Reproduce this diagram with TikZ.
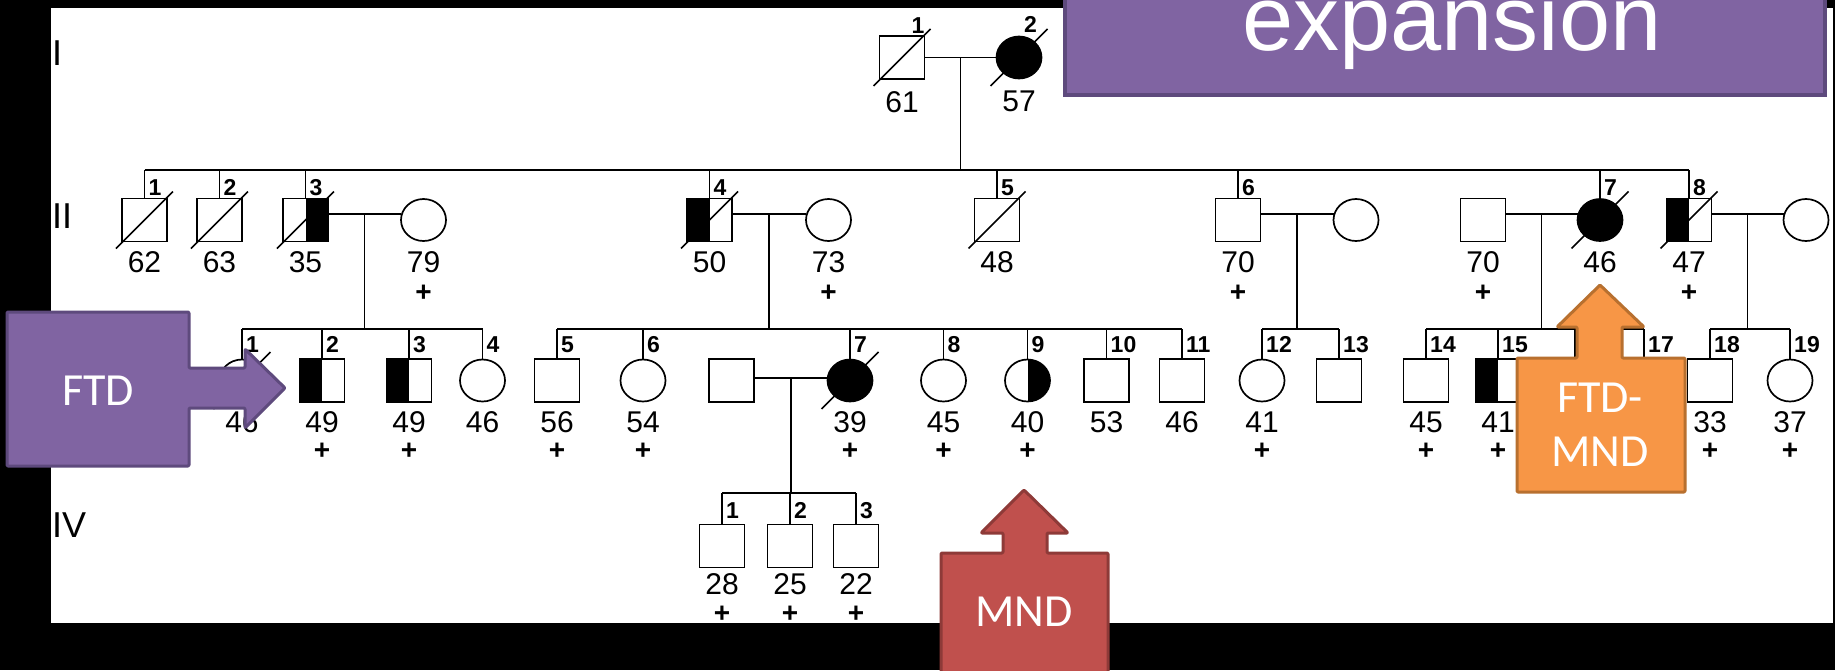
\documentclass[tikz,border=0pt]{standalone}
\usepackage{fontspec}
\setmainfont{Liberation Sans}
\newfontfamily\calib{Carlito}
\usetikzlibrary{shapes.geometric,calc}

\definecolor{ptfill}{HTML}{8064A2}
\definecolor{ptline}{HTML}{5E4A7D}
\definecolor{rdfill}{HTML}{C0504D}
\definecolor{rdline}{HTML}{8E3A38}
\definecolor{orfill}{HTML}{F79646}
\definecolor{orline}{HTML}{B8702F}

\newcommand\pedage{\fontsize{30}{36}\selectfont}
\newcommand\pedid{\bfseries\fontsize{23}{26}\selectfont}
\newcommand\pedplus{\bfseries\fontsize{28}{30}\selectfont}
\newcommand\pedgen{\fontsize{36}{40}\selectfont}
\newcommand\pedcall{\calib\fontsize{46}{54}\selectfont}
\newcommand\pedslash[1]{\draw[slash] ($(#1.center)+(-28.5,28.5)$) -- ($(#1.center)+(28.5,-28.5)$);}

\begin{document}
\begin{tikzpicture}[x=1pt,y=-1pt,
  ped/.style={line width=1.7pt},
  male/.style={draw, rectangle, line width=1.7pt, fill=white, minimum width=45pt, minimum height=43pt, inner sep=0pt, outer sep=0pt},
  female/.style={draw, ellipse, line width=1.7pt, fill=white, minimum width=45pt, minimum height=42pt, inner sep=0pt, outer sep=0pt},
  affected/.style={fill=black},
  lefthalf/.style={path picture={\fill[black] (path picture bounding box.north west) rectangle (path picture bounding box.south);}},
  righthalf/.style={path picture={\fill[black] (path picture bounding box.north) rectangle (path picture bounding box.south east);}},
  idnum/.style={font=\pedid, inner sep=0pt, anchor=base west},
  age/.style={font=\pedage, inner sep=0pt, anchor=base},
  carrier/.style={font=\pedplus, inner sep=0pt},
  genlabel/.style={font=\pedgen, inner sep=0pt, anchor=west},
  slash/.style={line width=1.5pt},
  callout/.style={line width=3pt, line join=round, rounded corners=1pt},
]
\useasboundingbox (0,0) rectangle (1835,670);
\clip (0,0) rectangle (1835,670);

% backdrop
\fill[black] (0,0) rectangle (1835,670);
\fill[white] (51,8) rectangle (1833,623);

% generation levels
\coordinate (sII) at (0,170);   \coordinate (nII) at (0,195);
\coordinate (mrII) at (0,214);  \coordinate (aII) at (0,272);  \coordinate (pII) at (0,293);
\coordinate (sIII) at (0,329);  \coordinate (nIII) at (0,352);
\coordinate (mrIII) at (0,378); \coordinate (aIII) at (0,432); \coordinate (pIII) at (0,451);
\coordinate (sIV) at (0,493);   \coordinate (nIV) at (0,518);
\coordinate (aIV) at (0,594);   \coordinate (pIV) at (0,614);

% generation numerals
\node[genlabel] (gI) at (52,53) {I};
\node[genlabel] (gII) at (52,216) {II};
\node[genlabel] (gIV) at (52,525) {IV};

% ---------- Generation I ----------
\node[male] (I1) at (902,57.5) {};
\node[female,affected] (I2) at (1019,57.5) {};
\pedslash{I1} \pedslash{I2}
\node[idnum,anchor=base east] at ($(I1.north east)+(0,-3)$) {1};
\node[idnum,anchor=base east] at ($(I2.north)+(18,-4)$) {2};
\node[age] at ($(I1.south)+(0,33)$) {61};
\node[age] at ($(I2.south)+(0,33)$) {57};
\draw[ped] (I1.east) -- (I2.west);
\coordinate (cI) at ($(I1.east)!0.5!(I2.west)$);
\draw[ped] (cI) -- (cI |- sII);

% ---------- Generation II ----------
\node[male] (II1) at (144.5,220) {};
\node[male] (II2) at (219.5,220) {};
\node[male,righthalf] (II3) at (305.5,220) {};
\node[female] (II3sp) at (423.5,220) {};
\node[male,lefthalf] (II4) at (709.5,220) {};
\node[female] (II4sp) at (828.5,220) {};
\node[male] (II5) at (997,220) {};
\node[male] (II6) at (1238,220) {};
\node[female] (II6sp) at (1356,220) {};
\node[male] (II7sp) at (1483,220) {};
\node[female,affected] (II7) at (1600,220) {};
\node[male,lefthalf] (II8) at (1689,220) {};
\node[female] (II8sp) at (1806,220) {};
\pedslash{II1} \pedslash{II2} \pedslash{II3} \pedslash{II4}
\pedslash{II5} \pedslash{II7} \pedslash{II8}

\draw[ped] (II1.north |- sII) -- (II8.north |- sII);
\foreach \n/\k in {II1/1,II2/2,II3/3,II4/4,II5/5,II6/6,II7/7,II8/8}{
  \draw[ped] (\n.north) -- (\n.north |- sII);
  \node[idnum] at ($(\n.north |- nII)+(4,0)$) {\k};
}
\foreach \n/\a in {II1/62,II2/63,II3/35,II3sp/79,II4/50,II4sp/73,II5/48,II6/70,II7sp/70,II7/46,II8/47}{
  \node[age] at (\n |- aII) {\a};
}
\foreach \n in {II3sp,II4sp,II6,II7sp,II7,II8}{
  \node[carrier] at (\n |- pII) {+};
}

% couples of generation II and their descent lines
\draw[ped] (II3.east |- mrII) -- (II3sp.west |- mrII);
\coordinate (cII3) at ($(II3.east)!0.5!(II3sp.west)$);
\draw[ped] (cII3 |- mrII) -- (cII3 |- sIII);
\draw[ped] (II4.east |- mrII) -- (II4sp.west |- mrII);
\coordinate (cII4) at ($(II4.east)!0.5!(II4sp.west)$);
\draw[ped] (cII4 |- mrII) -- (cII4 |- sIII);
\draw[ped] (II6.east |- mrII) -- (II6sp.west |- mrII);
\coordinate (cII6) at ($(II6.east)!0.5!(II6sp.west)$);
\draw[ped] (cII6 |- mrII) -- (cII6 |- sIII);
\draw[ped] (II7sp.east |- mrII) -- (II7.west |- mrII);
\coordinate (cII7) at ($(II7sp.east)!0.5!(II7.west)$);
\draw[ped] (cII7 |- mrII) -- (cII7 |- sIII);
\draw[ped] (II8.east |- mrII) -- (II8sp.west |- mrII);
\coordinate (cII8) at ($(II8.east)!0.5!(II8sp.west)$);
\draw[ped] (cII8 |- mrII) -- (cII8 |- sIII);

% ---------- Generation III ----------
\node[female] (III1) at (242,380.5) {};
\node[male,lefthalf] (III2) at (322,380.5) {};
\node[male,lefthalf] (III3) at (409,380.5) {};
\node[female] (III4) at (482.5,380.5) {};
\node[male] (III5) at (557,380.5) {};
\node[female] (III6) at (643,380.5) {};
\node[male] (III7sp) at (731.5,380.5) {};
\node[female,affected] (III7) at (850,380.5) {};
\node[female] (III8) at (943.5,380.5) {};
\node[female,righthalf] (III9) at (1027.5,380.5) {};
\node[male] (III10) at (1106.5,380.5) {};
\node[male] (III11) at (1182,380.5) {};
\node[female] (III12) at (1262,380.5) {};
\node[male] (III13) at (1339,380.5) {};
\node[male] (III14) at (1426,380.5) {};
\node[male,lefthalf] (III15) at (1498,380.5) {};
\node[male] (III16) at (1575,380.5) {};
\node[male] (III17) at (1644,380.5) {};
\node[male] (III18) at (1710,380.5) {};
\node[female] (III19) at (1790,380.5) {};
\pedslash{III1} \pedslash{III7}

\draw[ped] (III1.north |- sIII) -- (III4.north |- sIII);
\draw[ped] (III5.north |- sIII) -- (III11.north |- sIII);
\draw[ped] (III12.north |- sIII) -- (III13.north |- sIII);
\draw[ped] (III14.north |- sIII) -- (III17.north |- sIII);
\draw[ped] (III18.north |- sIII) -- (III19.north |- sIII);
\foreach \n/\k in {III1/1,III2/2,III3/3,III4/4,III5/5,III6/6,III7/7,III8/8,III9/9,III10/10,III11/11,III12/12,III13/13,III14/14,III15/15,III16/16,III17/17,III18/18,III19/19}{
  \draw[ped] (\n.north) -- (\n.north |- sIII);
  \node[idnum] at ($(\n.north |- nIII)+(4,0)$) {\k};
}
\foreach \n/\a in {III1/46,III2/49,III3/49,III4/46,III5/56,III6/54,III7/39,III8/45,III9/40,III10/53,III11/46,III12/41,III14/45,III15/41,III18/33,III19/37}{
  \node[age] at (\n |- aIII) {\a};
}
\foreach \n in {III2,III3,III5,III6,III7,III8,III9,III12,III14,III15,III18,III19}{
  \node[carrier] at (\n |- pIII) {+};
}

% couple of generation III
\draw[ped] (III7sp.east |- mrIII) -- (III7.west |- mrIII);
\coordinate (cIII7) at ($(III7sp.east)!0.5!(III7.west)$);
\draw[ped] (cIII7 |- mrIII) -- (cIII7 |- sIV);

% ---------- Generation IV ----------
\node[male] (IV1) at (722,546) {};
\node[male] (IV2) at (790,546) {};
\node[male] (IV3) at (856,546) {};
\draw[ped] (IV1.north |- sIV) -- (IV3.north |- sIV);
\foreach \n/\k/\a in {IV1/1/28,IV2/2/25,IV3/3/22}{
  \draw[ped] (\n.north) -- (\n.north |- sIV);
  \node[idnum] at ($(\n.north |- nIV)+(4,0)$) {\k};
  \node[age] at (\n |- aIV) {\a};
  \node[carrier] at (\n |- pIV) {+};
}

% ---------- callouts ----------
\draw[fill=ptfill, draw=ptline, line width=4pt] (1065,-20) rectangle (1825,95);
\node[font=\fontsize{92}{100}\selectfont, text=white, inner sep=0pt, anchor=base west] (title) at (1242,50) {expansion};

\draw[callout, fill=ptfill, draw=ptline] (7,312) -- (189,312) -- (189,368) -- (245,368) -- (245,349) -- (285,388) -- (245,428) -- (245,408) -- (189,408) -- (189,466) -- (7,466) -- cycle;
\node[font=\pedcall, text=white, inner sep=0pt] (ftd) at (98,391) {FTD};

\draw[callout, fill=rdfill, draw=rdline] (941,720) -- (941,553) -- (1003,553) -- (1003,533) -- (981,533) -- (1024,490) -- (1068,533) -- (1047,533) -- (1047,553) -- (1108,553) -- (1108,720) -- cycle;
\node[font=\pedcall, text=white, inner sep=0pt] (mnd) at (1024,612) {MND};

\draw[callout, fill=orfill, draw=orline] (1517,492) -- (1517,358) -- (1577,358) -- (1577,327) -- (1557,327) -- (1600,285) -- (1644,327) -- (1622,327) -- (1622,358) -- (1685,358) -- (1685,492) -- cycle;
\node[font=\pedcall, text=white, inner sep=0pt, align=center] (ftdmnd) at (1600,425) {FTD-\\MND};
\end{tikzpicture}
\end{document}
